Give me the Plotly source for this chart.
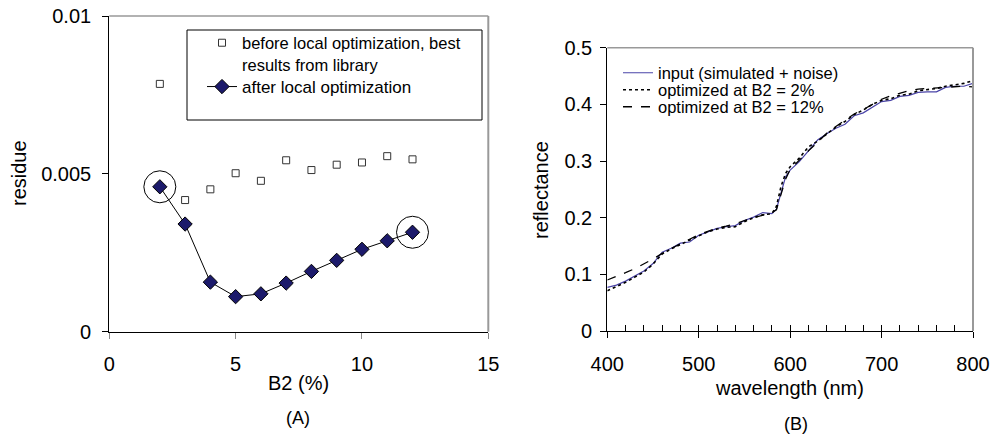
import plotly.graph_objects as go

# ---------------- Panel A data ----------------
b2_pct = [2, 3, 4, 5, 6, 7, 8, 9, 10, 11, 12]
residue_before = [0.00785, 0.00417, 0.00451, 0.00502, 0.00478, 0.00543,
                  0.00512, 0.00529, 0.00536, 0.00556, 0.00546]
residue_after = [0.00459, 0.00341, 0.00157, 0.00111, 0.00120, 0.00154,
                 0.00191, 0.00226, 0.00261, 0.00288, 0.00315]
a_yticks = [0, 0.005, 0.01]
a_yticklabels = ["0", "0.005", "0.01"]
a_xticks = [0, 5, 10, 15]

# ---------------- Panel B data ----------------
wavelength = [400, 410, 420, 430, 440, 450, 460, 470, 480, 490, 500, 510, 520,
              530, 540, 550, 560, 570, 580, 585, 590, 595, 600, 610, 620, 630,
              640, 650, 660, 670, 680, 690, 700, 710, 720, 730, 740, 750, 760,
              770, 780, 790, 800]
refl_input = [0.077, 0.081, 0.088, 0.097, 0.106, 0.119, 0.139, 0.146, 0.155,
              0.157, 0.169, 0.175, 0.181, 0.184, 0.186, 0.195, 0.201, 0.209,
              0.207, 0.215, 0.243, 0.272, 0.284, 0.299, 0.318, 0.337, 0.348,
              0.358, 0.365, 0.380, 0.385, 0.395, 0.405, 0.407, 0.414, 0.416,
              0.421, 0.422, 0.422, 0.430, 0.432, 0.432, 0.437]
refl_b2_2 = [0.071, 0.078, 0.086, 0.095, 0.104, 0.118, 0.136, 0.145, 0.153,
             0.160, 0.168, 0.175, 0.180, 0.183, 0.184, 0.193, 0.200, 0.205,
             0.207, 0.220, 0.255, 0.278, 0.290, 0.305, 0.325, 0.335, 0.348,
             0.360, 0.370, 0.382, 0.390, 0.400, 0.407, 0.410, 0.416, 0.418,
             0.424, 0.426, 0.428, 0.432, 0.435, 0.437, 0.442]
refl_b2_12 = [0.090, 0.096, 0.103, 0.110, 0.118, 0.127, 0.137, 0.146, 0.154,
              0.162, 0.170, 0.176, 0.182, 0.185, 0.189, 0.195, 0.200, 0.205,
              0.209, 0.214, 0.240, 0.268, 0.285, 0.302, 0.318, 0.333, 0.349,
              0.361, 0.372, 0.383, 0.391, 0.400, 0.409, 0.415, 0.420, 0.424,
              0.427, 0.428, 0.429, 0.431, 0.432, 0.432, 0.431]
b_yticks = [0, 0.1, 0.2, 0.3, 0.4, 0.5]
b_yticklabels = ["0", "0.1", "0.2", "0.3", "0.4", "0.5"]
b_xticks = [400, 500, 600, 700, 800]

FONT = "Arial, Liberation Sans, sans-serif"
W, H = 994, 439

fig = go.Figure()

# Panel A traces
fig.add_trace(go.Scatter(
    x=b2_pct, y=residue_before, mode="markers",
    name="before local optimization, best<br>results from library",
    marker=dict(symbol="square-open", size=7, color="#333333",
                line=dict(width=1, color="#333333")),
    xaxis="x", yaxis="y", legend="legend"))
fig.add_trace(go.Scatter(
    x=b2_pct, y=residue_after, mode="lines+markers",
    name="after local optimization",
    line=dict(color="black", width=1),
    marker=dict(symbol="diamond", size=11, color="#1c1a6b",
                line=dict(width=1, color="black")),
    xaxis="x", yaxis="y", legend="legend2"))

# Panel B traces
fig.add_trace(go.Scatter(
    x=wavelength, y=refl_input, mode="lines",
    name="input (simulated + noise)",
    line=dict(color="#4a44a8", width=1.2),
    xaxis="x2", yaxis="y2", legend="legend3"))
fig.add_trace(go.Scatter(
    x=wavelength, y=refl_b2_2, mode="lines",
    name="optimized at B2 = 2%",
    line=dict(color="black", width=1.6, dash="dot"),
    xaxis="x2", yaxis="y2", legend="legend4"))
fig.add_trace(go.Scatter(
    x=wavelength, y=refl_b2_12, mode="lines",
    name="optimized at B2 = 12%",
    line=dict(color="black", width=1.3, dash="dash"),
    xaxis="x2", yaxis="y2", legend="legend5"))
# invisible trace to host minor inward ticks on overlay axis
fig.add_trace(go.Scatter(x=[wavelength[0], wavelength[-1]], y=[None, None],
                         mode="lines", showlegend=False, hoverinfo="skip",
                         xaxis="x3", yaxis="y2"))

# domains
ax_dom = [109.3 / W, 488.3 / W]
ay_dom = [(H - 331.7) / H, (H - 16) / H]
bx_dom = [607.3 / W, 973 / W]
by_dom = [(H - 331) / H, (H - 47.7) / H]

tickfont = dict(family=FONT, size=20, color="black")

common = dict(automargin=False, showgrid=False, zeroline=False,
              showline=True, linecolor="black", linewidth=1.2,
              tickfont=tickfont, ticklen=6)


def leg(x, y, size, yanchor="middle", valign="middle"):
    return dict(x=x / W, y=1 - y / H, xanchor="left", yanchor=yanchor,
                bgcolor="rgba(0,0,0,0)", borderwidth=0, valign=valign,
                font=dict(family=FONT, size=size, color="black"),
                itemwidth=30)


fig.update_layout(
    width=W, height=H,
    margin=dict(l=0, r=0, t=0, b=0, autoexpand=False),
    paper_bgcolor="white", plot_bgcolor="white",
    font=dict(family=FONT, color="black"),
    xaxis=dict(domain=ax_dom, range=[0, 15], tickvals=a_xticks,
               ticks="outside", tickcolor="#888888", anchor="y",
               ticklabelstandoff=8, **common),
    yaxis=dict(domain=ay_dom, range=[0, 0.01], tickvals=a_yticks,
               ticktext=a_yticklabels, ticks="outside", tickcolor="black",
               anchor="x", ticklabelstandoff=7, **common),
    xaxis2=dict(domain=bx_dom, range=[400, 800], tickvals=b_xticks,
                ticks="outside", tickcolor="black", anchor="y2",
                ticklabelstandoff=9, **common),
    xaxis3=dict(overlaying="x2", matches="x2", range=[400, 800], dtick=20,
                tick0=400, ticks="inside", ticklen=6, tickcolor="black",
                showticklabels=False, showline=False, showgrid=False,
                zeroline=False, anchor="y2", side="bottom", automargin=False),
    yaxis2=dict(domain=by_dom, range=[0, 0.5], tickvals=b_yticks,
                ticktext=b_yticklabels, ticks="outside", tickcolor="black",
                anchor="x2", ticklabelstandoff=4, **common),
    legend=leg(202, 53.5, 16.5, valign="top"),
    legend2=leg(202, 87, 17),
    legend3=leg(618, 73, 16.5),
    legend4=leg(618, 90, 16.5),
    legend5=leg(618, 107, 16.5),
    showlegend=True,
)

shapes = []
# gray top/right frame lines
for xr, yr in (("x domain", "y domain"), ("x2 domain", "y2 domain")):
    shapes.append(dict(type="line", xref=xr, yref=yr, x0=0, x1=1, y0=1, y1=1,
                       line=dict(color="#999999", width=1.5)))
    shapes.append(dict(type="line", xref=xr, yref=yr, x0=1, x1=1, y0=0, y1=1,
                       line=dict(color="#999999", width=2)))
# legend box of panel A
shapes.append(dict(type="rect", xref="paper", yref="paper",
                   x0=187 / W, x1=482 / W, y0=1 - 120 / H, y1=1 - 30 / H,
                   line=dict(color="black", width=1)))
# circles highlighting first and last optimized points
for i in (0, len(b2_pct) - 1):
    shapes.append(dict(type="circle", xref="x", yref="y",
                       xsizemode="pixel", ysizemode="pixel",
                       xanchor=b2_pct[i], yanchor=residue_after[i],
                       x0=-16, x1=16, y0=-16, y1=16,
                       line=dict(color="black", width=1)))
fig.update_layout(shapes=shapes)


# axis titles and panel labels
def label(text, x, y, size=20, angle=0):
    fig.add_annotation(text=text, xref="paper", yref="paper",
                       x=x / W, y=1 - y / H, showarrow=False, textangle=angle,
                       xanchor="center", yanchor="middle",
                       font=dict(family=FONT, size=size, color="black"))


label("B2 (%)", 298, 383)
label("residue", 19, 173, angle=-90)
label("wavelength (nm)", 789, 388)
label("reflectance", 541, 190, angle=-90)
label("(A)", 298, 418, size=18)
label("(B)", 796, 424, size=18)

fig.write_html("out.html")
